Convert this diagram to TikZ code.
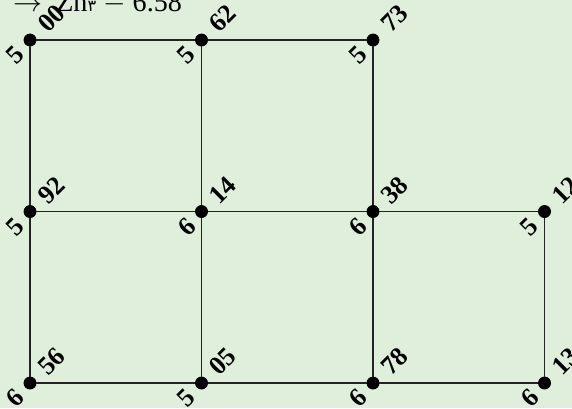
\documentclass[tikz,border=0pt]{standalone}
\usepackage{fontspec}
\setmainfont{Liberation Serif}
\newfontfamily\arabicfont[Script=Arabic]{DejaVu Sans}
\usetikzlibrary{positioning}

\definecolor{bgGreen}{RGB}{223,239,220}
\definecolor{lineDark}{RGB}{35,35,35}

\begin{document}
\begin{tikzpicture}[
    % Grid vertex style
    vertex/.style={circle, fill=black, draw=black, minimum size=6pt, inner sep=0pt},
    % Connector style
    wire/.style={lineDark, line width=0.8pt},
    % Tilted labels
    toplab/.style={font=\fontsize{13}{15}\selectfont\bfseries, rotate=45, inner sep=0pt},
    botlab/.style={font=\fontsize{13}{15}\selectfont\bfseries, rotate=45, inner sep=0pt}
]

    % === BACKGROUND ===
    \fill[bgGreen] (-0.525,0.700) rectangle (9.481,-6.437);
    \useasboundingbox (-0.525,0.700) rectangle (9.481,-6.437);

    % === HEADER (cut at the top) ===
    \node[anchor=base west, inner sep=0pt, font=\fontsize{14}{16}\selectfont] (head) at (-0.30,0.50)
        {$\rightarrow$\ \ Zn{\fontsize{8}{8}\selectfont\arabicfont ۳} $-$ 6.58};

    % === TOP ROW ===
    \node[vertex] (a1) at (0,0) {};
    \node[vertex] (a2) at (3,0) {};
    \node[vertex] (a3) at (6,0) {};

    % === MIDDLE ROW ===
    \node[vertex] (b1) at (0,-3) {};
    \node[vertex] (b2) at (3,-3) {};
    \node[vertex] (b3) at (6,-3) {};
    \node[vertex] (b4) at (9,-3) {};

    % === BOTTOM ROW ===
    \node[vertex] (c1) at (0,-6) {};
    \node[vertex] (c2) at (3,-6) {};
    \node[vertex] (c3) at (6,-6) {};
    \node[vertex] (c4) at (9,-6) {};

    % Connectors
    \foreach \u/\v in {a1/a2, a2/a3, b1/b2, b2/b3, b3/b4, c1/c2, c2/c3, c3/c4,
                       a1/b1, b1/c1, a2/b2, b2/c2, a3/b3, b3/c3, b4/c4} {
        \draw[wire] (\u) -- (\v);
    }

    % Labels on each vertex
    \foreach \n/\t/\b in {a1/00/5, a2/62/5, a3/73/5,
                          b1/92/5, b2/14/6, b3/38/6, b4/12/5,
                          c1/56/6, c2/05/5, c3/78/6, c4/13/6} {
        \node[toplab] (\n-t) at ([shift={(45:15pt)}]\n.center) {\t};
        \node[botlab] (\n-b) at ([shift={(225:10.5pt)}]\n.center) {\b};
    }

\end{tikzpicture}
\end{document}
